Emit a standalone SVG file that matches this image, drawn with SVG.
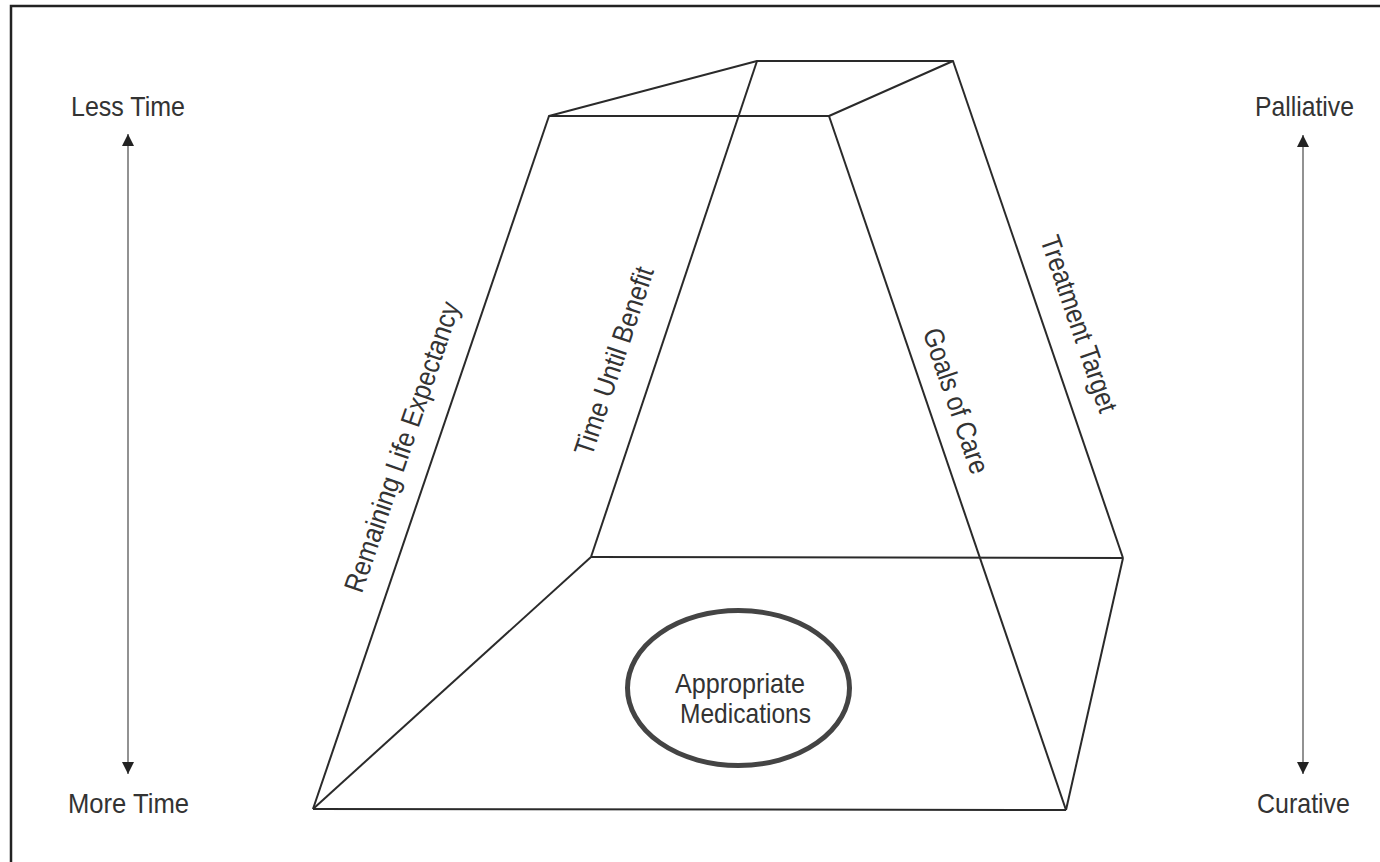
<svg xmlns="http://www.w3.org/2000/svg" width="1380" height="862" viewBox="0 0 1380 862">
<style>
.bg{fill:#fff}
.frame{stroke:#222;stroke-width:2.5;fill:none}
.edge{stroke:#2a2a2a;stroke-width:2;fill:none;stroke-linejoin:round}
.axis{stroke:#777;stroke-width:1.6;fill:none}
.lbl{font-family:"Liberation Sans",Arial,sans-serif;font-size:28px;fill:#333}
.mid{text-anchor:middle}
.oval{fill:none;stroke:#444;stroke-width:5}
</style>
<defs>
<marker id="ah" viewBox="0 0 10 10" refX="10" refY="5" markerWidth="12" markerHeight="12" markerUnits="userSpaceOnUse" orient="auto">
<path d="M0,0 L10,5 L0,10 Z" fill="#222"/>
</marker>
</defs>
<rect class="bg" x="0" y="0" width="1380" height="862"/>
<path class="frame" d="M11,862 L11,6 L1380,6"/>

<g id="connectors">
<path class="edge" d="M549,116 L757,61 L953,61 L829,116 Z"/>
<line class="edge" x1="549" y1="116" x2="313" y2="809"/>
<line class="edge" x1="757" y1="61" x2="591" y2="557"/>
<line class="edge" x1="829" y1="116" x2="1066" y2="810"/>
<line class="edge" x1="953" y1="61" x2="1123" y2="558"/>
<line class="edge" x1="591" y1="557" x2="1123" y2="558"/>
<line class="edge" x1="313" y1="809" x2="1066" y2="810"/>
<line class="edge" x1="313" y1="809" x2="591" y2="557"/>
<line class="edge" x1="1066" y1="810" x2="1123" y2="558"/>
<line class="axis" x1="128" y1="450" x2="128" y2="134" marker-end="url(#ah)"/>
<line class="axis" x1="128" y1="450" x2="128" y2="774" marker-end="url(#ah)"/>
<line class="axis" x1="1303" y1="450" x2="1303" y2="135" marker-end="url(#ah)"/>
<line class="axis" x1="1303" y1="450" x2="1303" y2="774" marker-end="url(#ah)"/>
</g>

<g id="axis-left">
<text class="lbl mid" x="128" y="116" textLength="114" lengthAdjust="spacingAndGlyphs">Less Time</text>
<text class="lbl mid" x="128.5" y="813" textLength="121" lengthAdjust="spacingAndGlyphs">More Time</text>
</g>
<g id="axis-right">
<text class="lbl mid" x="1304.5" y="116" textLength="99" lengthAdjust="spacingAndGlyphs">Palliative</text>
<text class="lbl mid" x="1303.5" y="813" textLength="93" lengthAdjust="spacingAndGlyphs">Curative</text>
</g>

<g id="label-remaining">
<text class="lbl mid" transform="translate(411,450) rotate(-71.2)" textLength="305" lengthAdjust="spacingAndGlyphs">Remaining Life Expectancy</text>
</g>
<g id="label-time-until">
<text class="lbl mid" transform="translate(623,364) rotate(-71.5)" textLength="197" lengthAdjust="spacingAndGlyphs">Time Until Benefit</text>
</g>
<g id="label-goals">
<text class="lbl mid" transform="translate(947,404) rotate(71.1)" textLength="152" lengthAdjust="spacingAndGlyphs">Goals of Care</text>
</g>
<g id="label-treatment">
<text class="lbl mid" transform="translate(1070,327) rotate(71.1)" textLength="185" lengthAdjust="spacingAndGlyphs">Treatment Target</text>
</g>

<g id="node-meds">
<ellipse class="oval" cx="738.5" cy="688" rx="111" ry="77.5"/>
<text class="lbl mid" x="740" y="693" textLength="130" lengthAdjust="spacingAndGlyphs">Appropriate</text>
<text class="lbl mid" x="745.5" y="723" textLength="131" lengthAdjust="spacingAndGlyphs">Medications</text>
</g>
</svg>
